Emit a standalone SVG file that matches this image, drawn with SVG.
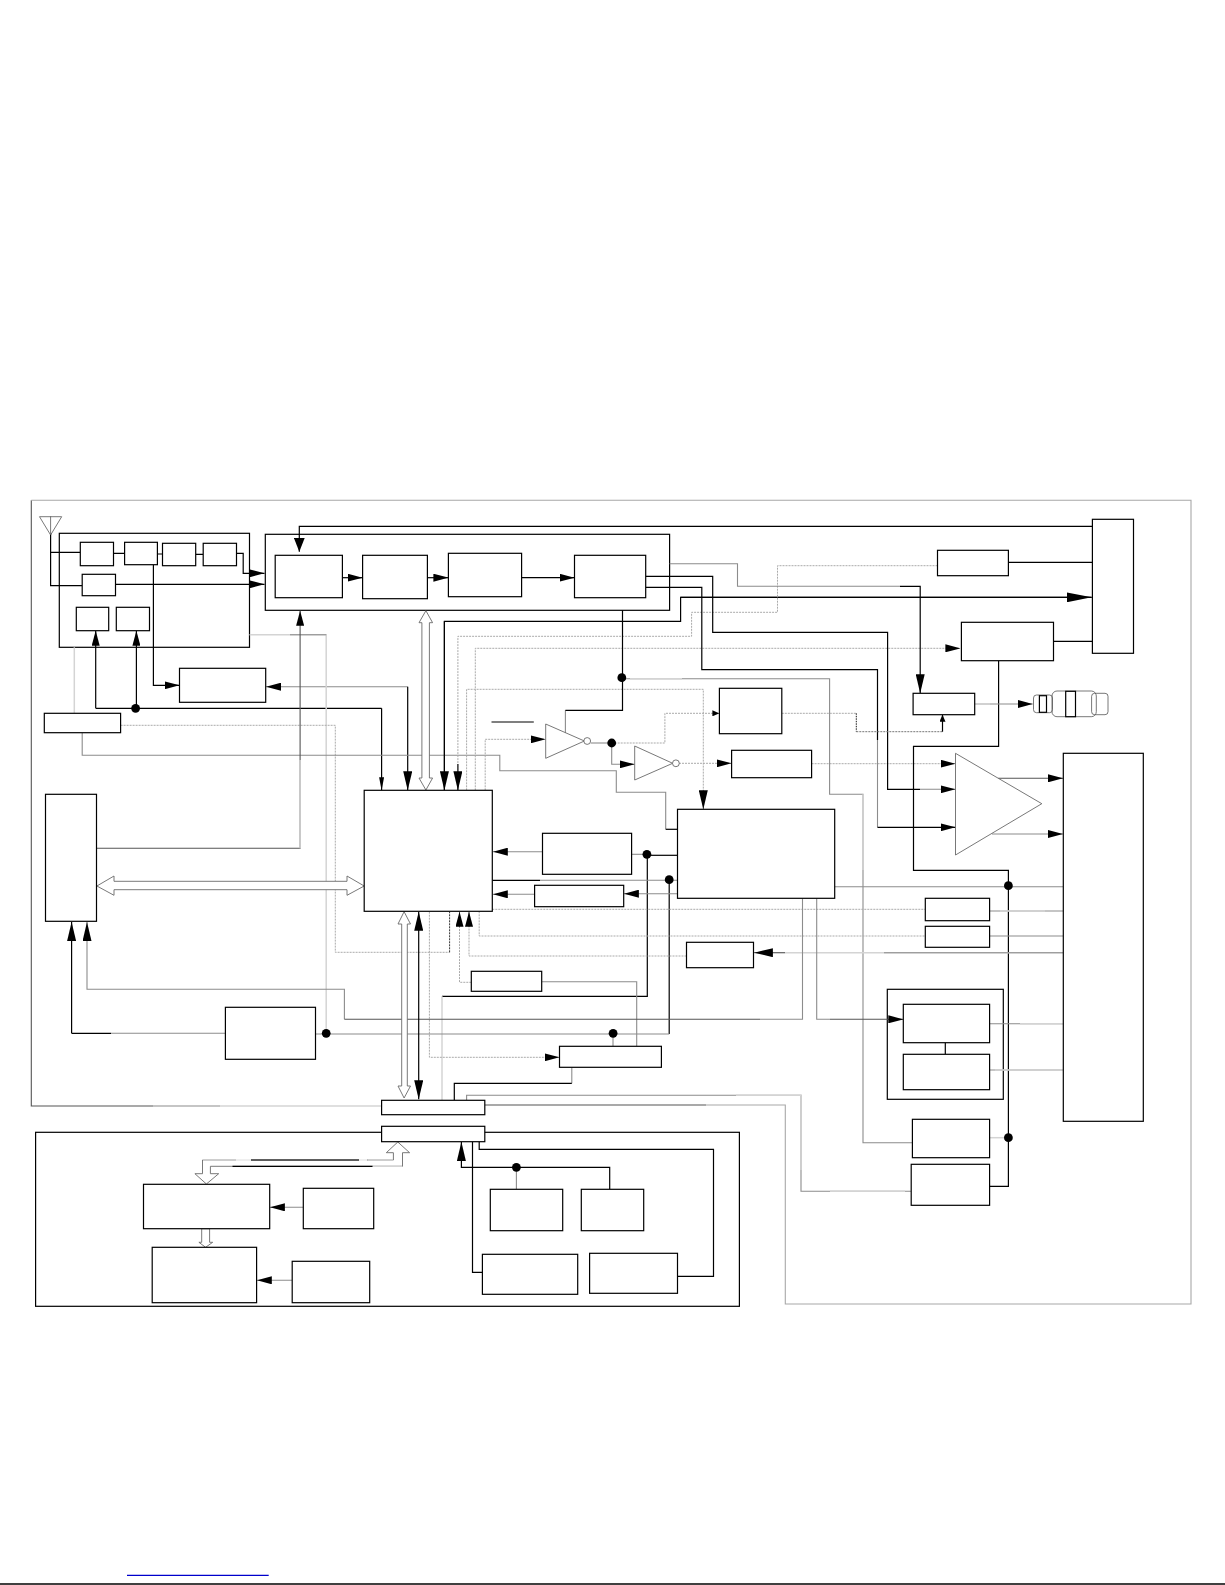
<svg xmlns="http://www.w3.org/2000/svg" width="1225" height="1585" viewBox="0 0 1225 1585">
<style>
rect,.n{fill:#fff;stroke:#000;stroke-width:1.2}
.t{fill:#fff;stroke:#555;stroke-width:.8}
path{fill:none}
.k{stroke:#000;stroke-width:1.2}
.d{stroke:#555;stroke-width:1.1}
.m{stroke:#8c8c8c;stroke-width:1.1}
.l{stroke:#d4d4d4;stroke-width:1.5}
.s{stroke:#aaa;stroke-width:1;stroke-dasharray:2 1}
.h{fill:#fff;stroke:#6a6a6a;stroke-width:.9}
.a{marker-end:url(#a)}.b{marker-end:url(#b)}.c{marker-end:url(#c)}.e{marker-end:url(#e)}.f{marker-end:url(#f)}.g{marker-end:url(#g)}
.ee{marker-start:url(#e);marker-end:url(#e)}
circle{fill:#000}
.o{fill:#fff;stroke:#555;stroke-width:.8}
.i{fill:none;stroke:#555;stroke-width:.8}
</style>
<defs>
<marker id="a" markerUnits="userSpaceOnUse" markerWidth="15" markerHeight="8" refX="15" refY="4" orient="auto-start-reverse"><polygon points="0,0 15,4 0,8" fill="#000"/></marker>
<marker id="b" markerUnits="userSpaceOnUse" markerWidth="25" markerHeight="10" refX="25" refY="5" orient="auto-start-reverse"><polygon points="0,0 25,5 0,10" fill="#000"/></marker>
<marker id="c" markerUnits="userSpaceOnUse" markerWidth="13" markerHeight="5" refX="13" refY="2.5" orient="auto-start-reverse"><polygon points="0,0 13,2.5 0,5" fill="#000"/></marker>
<marker id="e" markerUnits="userSpaceOnUse" markerWidth="19" markerHeight="9" refX="19" refY="4.5" orient="auto-start-reverse"><polygon points="0,0 19,4.5 0,9" fill="#000"/></marker>
<marker id="f" markerUnits="userSpaceOnUse" markerWidth="7" markerHeight="6" refX="7" refY="3" orient="auto-start-reverse"><polygon points="0,0 7,3 0,6" fill="#000"/></marker>
<marker id="g" markerUnits="userSpaceOnUse" markerWidth="14" markerHeight="11" refX="14" refY="5.5" orient="auto-start-reverse"><polygon points="0,0 14,5.5 0,11" fill="#000"/></marker>
</defs>
<g id="frames">
<path class="l" d="M381.6 1106H220"/>
<path class="m" d="M220 1106H153"/>
<path class="d" d="M153 1106H31.3V500.3"/>
<path style="stroke:#a8a8a8;stroke-width:1.1" d="M31.3 500.3H1191V1304H785.3V1105H706"/>
<path class="d" d="M706 1105H484.8"/>
<rect id="panel-bottom" x="35.6" y="1132.3" width="703.8" height="174"/>
<rect id="panel-rf" x="59.3" y="533.3" width="190.2" height="114"/>
<rect id="panel-tuner" x="265.3" y="534.3" width="404.3" height="76"/>
<rect id="panel-v" x="887.3" y="989.3" width="116" height="110"/>
</g>
<g id="connectors">
<path class="k g" d="M1092.4 526.3H299.3V551.7"/>
<path class="k" d="M50.6 516.7V585.7H82.2M50.6 552.3H80.3M113.5 553.3H124.6M157.4 554H162.5M195.7 554.3H203.2"/>
<path class="k a" d="M236.5 553.3H243.2V573.3H264.5"/>
<path class="k a" d="M115.5 584.3H264.5"/>
<path class="k a" d="M342.4 577.7H362.6"/>
<path class="k a" d="M427.4 577.7H448.4"/>
<path class="k a" d="M521.6 577.7H574.5"/>
<path class="k a" d="M153.4 564.7V685.3H179.5"/>
<path class="k a" d="M95.7 708.3V630.7"/>
<path class="k" d="M95.7 708.3H381.6"/>
<path class="k a" d="M136.4 708.3V630.7"/>
<path class="k c" d="M381.6 708.3V790.3"/>
<path class="m a" d="M407.7 686.7H266"/>
<path class="k e" d="M407.7 686.7V790.3"/>
<path class="l" d="M74.3 647.3V713.3"/>
<path class="l" d="M249.5 634.7H326.2V1033.3"/>
<path class="m" d="M290 634.7H326.2"/>
<path class="s" d="M120.6 725.3H335.3V952.3H449.6"/>
<path class="k" style="stroke-dasharray:2 1;stroke-width:.8" d="M449.6 952.3V911.7"/>
<path class="m" d="M82.2 732.7V755.3H499.8V770.7H616.3V792.3H665.7V829.3"/>
<path class="k" d="M665.7 829.3H677.5"/>
<path class="d a" d="M96.5 848.3H300.1V610.7"/>
<path class="l" d="M300.1 848.3V760"/>
<path class="k" d="M444.4 790.3V621.3H680.6V597.3H1091.6"/>
<path class="k b" d="M680.6 597.3H1091.6"/>
<path class="k e" d="M444.4 621.3V790.3"/>
<path class="s" d="M937.5 565.7H777.5V612.3H691.6V636.3H457.9V764"/>
<path class="k e" d="M457.9 764V790.3"/>
<path class="s a" d="M475.3 790.3V648.3H960.4"/>
<path class="s" d="M466.6 790.3V689.3H703.3V790"/>
<path class="k e" d="M703.3 790V809.3" style="stroke-width:.5"/>
<path class="s a" d="M485.2 790.3V739.3H545.7"/>
<path class="k" d="M491.5 722H533.8"/>
<path class="m" d="M565.4 733V710.3"/>
<path class="k" d="M565.4 710.3H622.5V610.3"/>
<path class="m" d="M590.7 743H611.7"/>
<path class="s f" d="M611.7 743H664.9V713.3H719.4"/>
<path class="m a" d="M611.7 743V764.3H634.7"/>
<path class="s a" d="M679 763.3H731.6"/>
<path class="s a" d="M811.6 763.7H955.5"/>
<path class="m" d="M621.8 678.7H829.6V794.3H863V1142.7H912.4"/>
<path class="l" d="M630 678.7H682M863 794.3V870"/>
<path class="k" d="M645.7 576.3H712.7V632.3H887.6V789.3H920"/>
<path class="m a" d="M920 789.3H955.5"/>
<path class="k" d="M645.7 587.3H701.8V669.7H877.5V740"/>
<path class="m" d="M877.5 740V827.3"/>
<path class="k a" d="M877.5 827.3H955.5"/>
<path class="m" d="M669.6 563.7H737.5V586.3H900"/>
<path class="k" d="M900 586.3H920.2V640"/>
<path class="k e" d="M920.2 640V693.3"/>
<path class="k" d="M1008.4 562.3H1092.4M1053.5 641.3H1092.4"/>
<path class="k" d="M998.6 660.7V746.3H913.5V870.3H1008.4V1186.3H989.6"/>
<path class="m a" d="M974.7 704H1032.7"/>
<path class="l" d="M974.7 704H990"/>
<path class="d a" d="M998.2 778.3H1063"/>
<path class="m a" d="M992 834H1063"/>
<path class="s" d="M781.8 713.3H856.3"/>
<path class="k" style="stroke-dasharray:1.5 1;stroke-width:.9" d="M856.3 713.3V731.7"/>
<path class="s" style="stroke:#777" d="M856.3 731.7H942.5"/>
<path class="k f" d="M942.5 731.7V714.7"/>
<path class="m a" d="M542.5 851.7H492.8"/>
<path class="m" d="M631.6 854.3H646.9"/>
<path class="k" d="M646.9 855.3H677.5"/>
<path class="k" d="M647.3 855V996.3H442"/>
<path class="l" d="M442 996.3V1100.3"/>
<path class="k" d="M492.3 880.3H540"/>
<path class="m" d="M540 880.3H677.5"/>
<path class="k" d="M669.2 880V1034"/>
<path class="m" d="M669.2 1034H613.1"/>
<path class="m a" d="M677.5 893.7H623.9"/>
<path class="m a" d="M534.6 894.3H492.8"/>
<path class="s" d="M492.3 909.3H925.3"/>
<path class="s" d="M479.2 911.3V936H925.3"/>
<path class="s" d="M686.5 956H469V925"/>
<path class="k a" d="M469 926.7V911.7" style="stroke-width:.6"/>
<path class="m" d="M989.6 911H1063.3M989.6 936H1063.3"/>
<path class="l" d="M1000 911H1045"/>
<path class="l" d="M1063.3 952.7H770"/>
<path class="m" d="M1063.3 952.7H884"/>
<path class="k e" style="stroke-width:.6" d="M785 952.7H753.9"/>
<path class="s" d="M471.3 982.3H459.5V926"/>
<path class="k a" d="M459.5 926.7V911.7" style="stroke-width:.6"/>
<path class="m" d="M541.7 981.7H636.7V1046.3"/>
<path class="s a" d="M429.4 911.7V1057.3H559.5"/>
<path class="m" d="M571.8 1067.3V1083.3"/>
<path class="k" d="M571.8 1083.3H454.3V1100.3"/>
<path class="k e" d="M71.6 1033.3V922"/>
<path class="k" d="M71.6 1033.3H111"/>
<path class="m" d="M111 1033.3H225.4"/>
<path class="m" d="M315.5 1034H613"/>
<path class="m" d="M613 1033.3V1046.3"/>
<path class="m e" d="M344.4 1019.3V989.3H87V922"/>
<path class="d" d="M344.4 1019.3H760"/>
<path class="m" d="M760 1019.3H802.5V898.3"/>
<path class="m" d="M816.7 898.3V1019.3H830"/>
<path class="d a" d="M830 1019.3H903.3"/>
<path class="m" d="M834.7 886.7H1063.3"/>
<path class="m" d="M989.6 1023.7H1063.3M989.6 1070H1063.3"/>
<path class="l" d="M1020 1023.7H1063.3M995 1070H1063.3"/>
<path class="k" d="M945.3 1042.7V1054.3"/>
<path class="l" d="M989.6 1137.7H1008.4"/>
<path class="m" d="M466.6 1100.3V1095.3H801V1191.3H911.2"/>
<path class="l" d="M736 1095.3H801V1170M830 1191.3H905"/>
<path class="k" d="M479.2 1141.7V1149.3H713.5V1276.3H677.5"/>
<path class="k" d="M472.5 1141.7V1272.3H482.4"/>
<path class="k e" d="M609.7 1189.3V1167.3H461.4V1141.9"/>
<path class="m" d="M516.4 1167.3V1189.3"/>
<path class="m a" d="M303.3 1207.3H269.9"/>
<path class="m a" d="M292.2 1280.3H256.8"/>
</g>
<g id="hollow-arrows">
<path class="h" d="M425.9 610.7L432.6 622.7H429.4V778H432.6L425.9 790L419 778H421.9V622.7H419Z"/>
<path class="h" d="M96.9 886L114 876V881.3H347V876L364.2 886L347 895.3V889.7H114V895.3Z"/>
<path class="h" d="M404.1 911.7L410.5 924H407.3V1086H410.5L404.1 1098L398 1086H401.7V924H398Z"/>
<path class="k ee" d="M418.7 1099.3V911.7"/>
<path class="h" d="M397.8 1142L409.6 1152.7H402.5V1166.3H210.4V1173.7H218.7L206.4 1184L194.9 1173.7H202.5V1160H393.4V1152.7H386.3Z"/>
<path style="stroke:#fff;stroke-width:1.6" d="M236 1160H251M359 1160H367"/>
<path style="stroke:#d4d4d4;stroke-width:1.4" d="M203 1160H236M368 1160H393M372 1166.3H402"/>
<path class="k" d="M232.5 1166.3H372.5M251 1160H359"/>
<path class="h" d="M201.7 1228.7H209.6V1242.3H212.7L205.6 1247.3L198.9 1242.3H201.7Z"/>
</g>
<g id="antenna"><polygon class="t" points="39.5,516.7 61.7,516.7 50.6,535"/><path class="i" d="M50.6 516.7V535"/></g>
<g id="rf1"><rect x="80.3" y="542.3" width="33.2" height="23.4"/></g>
<g id="rf2"><rect x="124.6" y="542.3" width="32.8" height="22.4"/></g>
<g id="rf3"><rect x="162.5" y="543.3" width="33.2" height="22.4"/></g>
<g id="rf4"><rect x="203.2" y="543.3" width="33.3" height="22.4"/></g>
<g id="rf5"><rect x="82.2" y="574.3" width="33.3" height="21.4"/></g>
<g id="rf6"><rect x="76.3" y="607.3" width="32.4" height="23.4"/></g>
<g id="rf7"><rect x="116.3" y="607.3" width="33.2" height="23.4"/></g>
<g id="tuner1"><rect x="275.2" y="555.3" width="67.2" height="42.4"/></g>
<g id="tuner2"><rect x="362.6" y="555.3" width="64.8" height="43.4"/></g>
<g id="tuner3"><rect x="448.4" y="553.3" width="73.2" height="43.4"/></g>
<g id="tuner4"><rect x="574.5" y="555.3" width="71.2" height="42.4"/></g>
<g id="box-c"><rect x="1092.4" y="519.3" width="41.1" height="134"/></g>
<g id="box-d"><rect x="937.5" y="550.3" width="70.9" height="25.4"/></g>
<g id="box-g"><rect x="961.4" y="622.3" width="92.1" height="38.4"/></g>
<g id="box-e"><rect x="913.1" y="693.3" width="61.6" height="21.4"/></g>
<g id="connector-icon">
<rect x="1033.5" y="695" width="19" height="17.7" rx="3" style="fill:none;stroke:#555;stroke-width:.8"/>
<rect x="1052" y="691" width="44.3" height="25.7" rx="5" style="fill:none;stroke:#555;stroke-width:.8"/>
<rect x="1091.6" y="693.3" width="16.4" height="21.4" rx="3" style="fill:none;stroke:#555;stroke-width:.8"/>
<rect x="1039.4" y="695.7" width="7.1" height="16.6"/>
<rect x="1065.7" y="691.3" width="9.8" height="25.4"/>
</g>
<g id="box-f"><rect x="719.4" y="688.3" width="62.4" height="45.4"/></g>
<g id="box-i"><rect x="731.6" y="750.3" width="80" height="27.4"/></g>
<g id="amp"><polygon class="t" points="955.5,753.3 1041.8,803.7 955.5,855"/></g>
<g id="box-h"><rect x="1063.3" y="753.3" width="80" height="368"/></g>
<g id="inv1"><polygon class="t" points="545.7,724 545.7,758.3 584.4,741"/><circle class="o" cx="587.2" cy="741" r="3.4"/></g>
<g id="inv2"><polygon class="t" points="634.7,746 634.7,780 672.7,763.3"/><circle class="o" cx="675.9" cy="763.3" r="3.4"/></g>
<g id="box-l"><rect x="179.5" y="668.3" width="86.2" height="34"/></g>
<g id="box-k"><rect x="44.3" y="713.3" width="76.3" height="19.4"/></g>
<g id="box-m"><rect x="45.5" y="794.3" width="51" height="127"/></g>
<g id="main"><rect x="364.2" y="790.3" width="128.1" height="121"/></g>
<g id="box-j"><rect x="677.5" y="809.3" width="157.2" height="89"/></g>
<g id="box-n"><rect x="542.5" y="833.3" width="89.1" height="41"/></g>
<g id="box-o"><rect x="534.6" y="885.3" width="89.1" height="21.4"/></g>
<g id="box-q1"><rect x="925.3" y="898.3" width="64.3" height="22.4"/></g>
<g id="box-q2"><rect x="925.3" y="926.3" width="64.3" height="21"/></g>
<g id="box-r"><rect x="686.5" y="942.3" width="67" height="25.4"/></g>
<g id="box-s"><rect x="471.3" y="971.3" width="70.4" height="20"/></g>
<g id="box-p"><rect x="559.5" y="1046.3" width="101.9" height="21"/></g>
<g id="box-w"><rect x="225.4" y="1007.3" width="90.1" height="52"/></g>
<g id="box-v1"><rect x="903.3" y="1004.3" width="86.3" height="38.4"/></g>
<g id="box-v2"><rect x="903.3" y="1054.3" width="86.3" height="35.4"/></g>
<g id="box-u1"><rect x="912.4" y="1119.3" width="77.2" height="38.4"/></g>
<g id="box-u2"><rect x="911.2" y="1164.3" width="78.4" height="41"/></g>
<g id="conn-t1"><rect x="381.6" y="1100.3" width="103.2" height="14.4"/></g>
<g id="conn-t2"><rect x="381.6" y="1126.3" width="103.2" height="15.4"/></g>
<g id="box-x1"><rect x="490.3" y="1189.3" width="72.4" height="41.4"/></g>
<g id="box-x2"><rect x="581.3" y="1189.3" width="62.4" height="41.4"/></g>
<g id="box-x3"><rect x="482.4" y="1254.3" width="95.3" height="40"/></g>
<g id="box-x4"><rect x="589.6" y="1253.3" width="87.9" height="40"/></g>
<g id="box-y1"><rect x="143.5" y="1184.3" width="126.2" height="44.4"/></g>
<g id="box-y2"><rect x="303.3" y="1188.3" width="70.4" height="40.4"/></g>
<g id="box-z1"><rect x="152.2" y="1247.3" width="104.4" height="55.4"/></g>
<g id="box-z2"><rect x="292.2" y="1261.3" width="77.5" height="41.4"/></g>
<g id="dots">
<circle cx="135.6" cy="708.3" r="4.4"/><circle cx="621.8" cy="677.7" r="4.4"/><circle cx="611.7" cy="743" r="4.4"/>
<circle cx="646.9" cy="854.3" r="4.4"/><circle cx="669.2" cy="879.7" r="4.4"/><circle cx="1008.4" cy="885.7" r="4.4"/>
<circle cx="326.2" cy="1033.3" r="4.4"/><circle cx="613.1" cy="1033.3" r="4.4"/><circle cx="1008.4" cy="1137.7" r="4.4"/>
<circle cx="516.4" cy="1167.3" r="4.4"/>
</g>
<g id="footer">
<path style="stroke:#0000cc;stroke-width:1.2" d="M127 1575.3H268.7"/>
<path style="stroke:#000;stroke-width:1.4" d="M0 1584H1225"/>
</g>
</svg>
